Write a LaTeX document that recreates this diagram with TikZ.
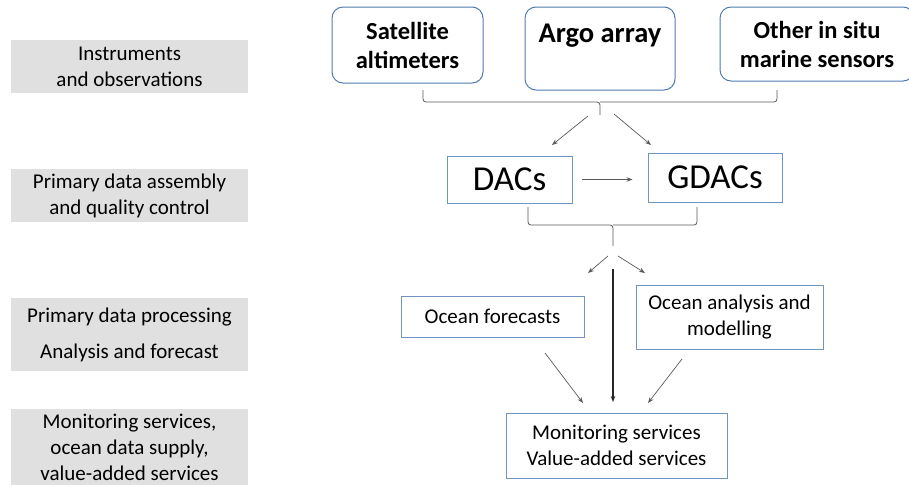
\documentclass[tikz,border=0pt]{standalone}
\usepackage{fontspec}
\setmainfont{Carlito}
\usetikzlibrary{arrows.meta}
\definecolor{bandgray}{HTML}{E0E0E0}
\definecolor{roundblue}{HTML}{4F7BAE}
\definecolor{boxblue}{HTML}{7094C2}
\definecolor{linkgray}{HTML}{595959}
\tikzset{
  band/.style={fill=bandgray, draw=none, minimum width=237pt, align=center,
    font=\fontsize{21}{26}\selectfont, inner sep=0pt},
  source/.style={draw=roundblue, line width=1pt, rounded corners=11pt, align=center,
    font=\fontsize{24.5}{29}\selectfont\bfseries, inner sep=0pt},
  stage/.style={draw=boxblue, line width=1pt, align=center, inner sep=0pt},
  bigtext/.style={font=\fontsize{35}{40}\selectfont},
  plaintext/.style={font=\fontsize{21}{26}\selectfont},
  brace/.style={draw=linkgray, line width=0.8pt, rounded corners=3pt},
  link/.style={draw=linkgray, line width=0.7pt, -{Stealth[length=6pt,width=4.5pt]}},
  mainlink/.style={draw=black!85, line width=1.1pt, -{Stealth[length=6pt,width=4.5pt]}}
}
\begin{document}
\begin{tikzpicture}[x=1pt,y=-1pt]
\useasboundingbox (0,0) rectangle (909,485);

% level labels on the left
\node[band, minimum height=53pt] (lv1) at (129.5,66.5) {Instruments\\and observations};
\node[band, minimum height=53pt] (lv2) at (129.5,195.5) {Primary data assembly\\and quality control};
\node[band, minimum height=73pt, font=\fontsize{21}{36}\selectfont] (lv3) at (129.5,334.5) {Primary data processing\\Analysis and forecast};
\node[band, minimum height=76pt, anchor=north] (lv4) at (129.5,409) {Monitoring services,\\ocean data supply,\\value-added services};

% observing systems
\node[source, minimum width=151pt, minimum height=76pt] (sat) at (407.5,45) {Satellite\\altimeters};
\node[source, minimum width=150pt, minimum height=83pt] (argo) at (600,48.5) {};
\node[font=\fontsize{28.5}{32}\selectfont\bfseries, anchor=base] (argotxt) at (600,42) {Argo array};
\node[source, minimum width=194pt, minimum height=74pt] (other) at (817,44) {Other in situ\\marine sensors};

% data centres
\node[stage, bigtext, minimum width=125pt, minimum height=47pt] (dacs) at (509.5,179.5) {DACs};
\node[stage, bigtext, minimum width=134pt, minimum height=49pt] (gdacs) at (715,177.5) {GDACs};

% products
\node[stage, plaintext, minimum width=183pt, minimum height=41pt] (fore) at (492.5,316.5) {Ocean forecasts};
\node[stage, plaintext, minimum width=187pt, minimum height=64pt] (anal) at (729.5,317) {Ocean analysis and\\modelling};
\node[stage, plaintext, minimum width=221pt, minimum height=65pt] (mon) at (616.5,445.5) {Monitoring services\\Value-added services};

% first brace: gathers the observing systems
\coordinate (b1l) at (423,90);
\coordinate (b1r) at (777,90);
\coordinate (b1m) at (600,102);
\coordinate (b1c) at (600,115);
\draw[brace] (b1l) -- (b1l |- b1m) -- (b1m) -- (b1c);
\draw[brace] (b1r) -- (b1r |- b1m) -- (b1m);

\coordinate (a1s) at (588,116);
\coordinate (a1e) at (552,145);
\coordinate (a2s) at (614,114);
\coordinate (a2e) at (651,145);
\draw[link] (a1s) -- (a1e);
\draw[link] (a2s) -- (a2e);

\draw[link] ([xshift=9pt]dacs.east) -- ([xshift=-15pt]dacs.east -| gdacs.west);

% second brace: gathers the data centres
\coordinate (b2l) at (528,207);
\coordinate (b2r) at (697,207);
\coordinate (b2m) at (613,225);
\coordinate (b2c) at (613,246);
\draw[brace] (b2l) -- (b2l |- b2m) -- (b2m) -- (b2c);
\draw[brace] (b2r) -- (b2r |- b2m) -- (b2m);

\coordinate (a3s) at (608,256);
\coordinate (a3e) at (588,273);
\coordinate (a4s) at (618,256);
\coordinate (a4e) at (645,273);
\draw[link] (a3s) -- (a3e);
\draw[link] (a4s) -- (a4e);

\coordinate (vtop) at (613,269);
\draw[mainlink] (vtop) -- (vtop |- 0,402);

\coordinate (a5s) at (545,353);
\coordinate (a5e) at (583,403);
\coordinate (a6s) at (682,359);
\coordinate (a6e) at (648,403);
\draw[link] (a5s) -- (a5e);
\draw[link] (a6s) -- (a6e);
\end{tikzpicture}
\end{document}
